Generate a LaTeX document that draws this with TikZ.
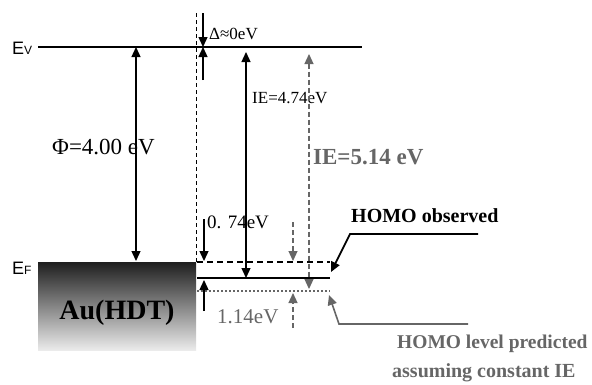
\documentclass[tikz,border=0pt]{standalone}
\usepackage{fontspec}
\setmainfont{Liberation Serif}
\setsansfont{Liberation Sans}
\usetikzlibrary{arrows.meta}
\definecolor{gr}{HTML}{666666}
\begin{document}
\begin{tikzpicture}[x=1pt,y=-1pt,
  tipA/.style={-{Triangle[length=10pt,width=9pt]}},
  tipB/.style={{Triangle[length=10pt,width=9pt]}-{Triangle[length=10pt,width=9pt]}},
  lbl/.style={inner sep=0pt, anchor=west},
  graydash/.style={gr, line width=1.2pt, dash pattern=on 5pt off 3pt},
  level/.style={line width=1.8pt}]
\useasboundingbox (0,0) rectangle (592,384);
% coordinates
\coordinate (evL) at (38,47);
\coordinate (evR) at (362,47);
\coordinate (phiT) at (136,47);
\coordinate (phiB) at (136,261);
\coordinate (dvT) at (196,13);
\coordinate (dvB) at (196,262);
\coordinate (dA1) at (203,13);
\coordinate (dA2) at (203,47);
\coordinate (dA3) at (203,80);
\coordinate (ieT) at (246,52);
\coordinate (ieB) at (246,278);
\coordinate (gT) at (309,54);
\coordinate (gB) at (309,289);
\coordinate (hdL) at (197,262);
\coordinate (hdR) at (330,262);
\coordinate (hsL) at (197,278);
\coordinate (hsR) at (330,278);
\coordinate (hpL) at (197,291);
\coordinate (hpR) at (330,291);
\coordinate (a1s) at (204,219);
\coordinate (a1e) at (204,261);
\coordinate (a2s) at (204,311);
\coordinate (a2e) at (204,280);
\coordinate (b1s) at (293,222);
\coordinate (b1e) at (293,261);
\coordinate (b2s) at (293,328);
\coordinate (b2e) at (293,293);
\coordinate (o1) at (478,234);
\coordinate (o2) at (350,234);
\coordinate (o3) at (331,272);
\coordinate (p1) at (468,324);
\coordinate (p2) at (339,324);
\coordinate (p3) at (329,295);
% metal box
\shade[top color=black!88, bottom color=black!8] (38,262) rectangle (196,350);
\node[font=\bfseries\fontsize{28}{30}\selectfont] (au) at (117,313) {Au(HDT)};
% vacuum level
\draw[level] (evL) -- (evR);
\node[lbl, font=\sffamily\fontsize{18}{20}\selectfont] (ev) at (12,48) {E{\fontsize{12}{12}\selectfont V}};
\node[lbl, font=\sffamily\fontsize{18}{20}\selectfont] (ef) at (12,268) {E{\fontsize{12}{12}\selectfont F}};
% dashed interface line
\draw[line width=0.9pt, dash pattern=on 4pt off 3pt] (dvT) -- (dvB);
% work function
\draw[tipB, line width=1.3pt] (phiT) -- (phiB);
\node[lbl, font=\fontsize{23}{25}\selectfont] (phi) at (52,147) {Φ=4.00 eV};
% Delta
\draw[tipA, line width=1.3pt] (dA1) -- (dA2);
\draw[tipA, line width=1.3pt] (dA3) -- (dA2);
\node[lbl, font=\fontsize{17}{19}\selectfont] (delta) at (209,34) {Δ≈0eV};
% IE 4.74
\draw[tipB, line width=1.3pt] (ieT) -- (ieB);
\node[lbl, font=\fontsize{17}{19}\selectfont] (ie1) at (252,98) {IE=4.74eV};
% IE 5.14 gray
\draw[graydash, tipB] (gT) -- (gB);
\node[lbl, gr, font=\bfseries\fontsize{23}{25}\selectfont] (ie2) at (313,157) {IE=5.14 eV};
% HOMO levels
\draw[level, dash pattern=on 6pt off 4pt] (hdL) -- (hdR);
\draw[level] (hsL) -- (hsR);
\draw[gr, line width=1.8pt, dash pattern=on 2pt off 2pt] (hpL) -- (hpR);
% 0.74 eV
\draw[tipA, line width=1.3pt] (a1s) -- (a1e);
\draw[tipA, line width=1.3pt] (a2s) -- (a2e);
\node[lbl, font=\fontsize{19}{21}\selectfont] (v074) at (207,222) {0. 74eV};
% 1.14 eV
\draw[graydash, tipA] (b1s) -- (b1e);
\draw[graydash, tipA] (b2s) -- (b2e);
\node[lbl, gr, font=\fontsize{21}{23}\selectfont] (v114) at (217,317) {1.14eV};
% HOMO observed
\draw[tipA, line width=1.8pt] (o1) -- (o2) -- (o3);
\node[lbl, font=\bfseries\fontsize{20}{22}\selectfont] (obs) at (351,216) {HOMO observed};
% predicted
\draw[tipA, gr, line width=1.6pt] (p1) -- (p2) -- (p3);
\node[lbl, gr, font=\bfseries\fontsize{19.5}{22}\selectfont] (pred1) at (397,344) {HOMO level predicted};
\node[lbl, gr, font=\bfseries\fontsize{20}{22}\selectfont] (pred2) at (392,373) {assuming constant IE};
\end{tikzpicture}
\end{document}
